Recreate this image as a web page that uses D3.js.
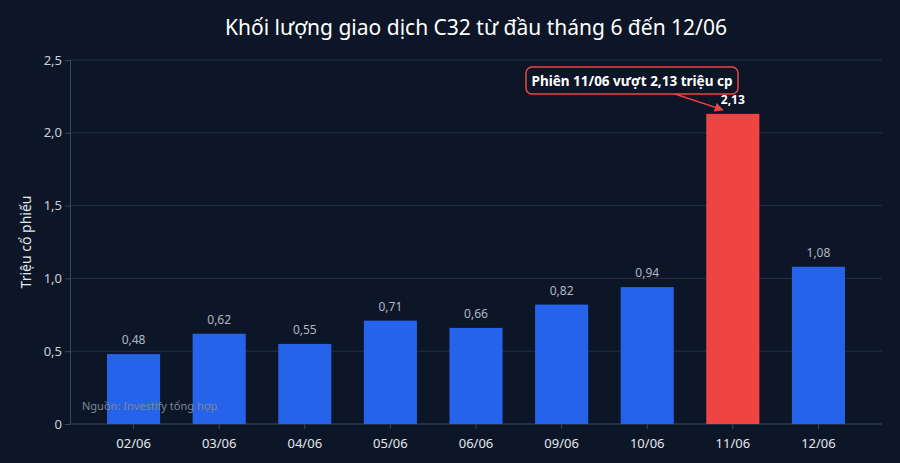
<!DOCTYPE html>
<html><head><meta charset="utf-8">
<script src="https://cdn.jsdelivr.net/npm/d3@7"></script>
<style>
body{margin:0;background:#0d1626;font-family:"Noto Sans",sans-serif;}
</style></head>
<body><svg id="c" width="900" height="463"></svg>
<script>
const days = ["02/06","03/06","04/06","05/06","06/06","09/06","10/06","11/06","12/06"];
const volumes = [0.48,0.62,0.55,0.71,0.66,0.82,0.94,2.13,1.08];
const yTicks = [0,0.5,1,1.5,2,2.5];
const highlightDay = "11/06";

const w = 900, h = 463;
const m = {left:70, right:18, top:60, bottom:39};
const fmt = v => v === 0 ? "0" : d3.format(".1f")(v).replace(".", ",");
const fmt2 = v => d3.format(".2f")(v).replace(".", ",");

const svg = d3.select("#c");
svg.append("rect").attr("width", w).attr("height", h).attr("fill", "#0d1626");

const x = d3.scaleBand().domain(days).range([74.5, 877.5]).padding(0.38);
const y = d3.scaleLinear().domain([0, 2.5]).range([h - m.bottom, m.top]);

// grid
svg.append("g").selectAll("line").data(yTicks.slice(1)).enter().append("line")
  .attr("x1", m.left).attr("x2", w - m.right)
  .attr("y1", d => y(d)).attr("y2", d => y(d))
  .attr("stroke", "#243044").attr("stroke-width", 1);

// axes
const yAxis = svg.append("g").attr("transform", "translate(" + m.left + ",0)")
  .call(d3.axisLeft(y).tickValues(yTicks).tickFormat(fmt).tickSize(5));
const xAxis = svg.append("g").attr("transform", "translate(0," + (h - m.bottom) + ")")
  .call(d3.axisBottom(x).tickSize(5));
xAxis.select(".domain").attr("d", "M" + m.left + ",0H" + (w - m.right));
[yAxis, xAxis].forEach(a => {
  a.selectAll("path,line").attr("stroke", "#3a475b");
  a.selectAll("text").attr("fill", "#c9d1dc").style("font-size", "13px").style("font-family", "Noto Sans");
});
xAxis.selectAll("text").attr("dy", "1.2em").attr("fill", "#e3e8ee");

// bars
svg.append("g").selectAll("rect").data(days).enter().append("rect")
  .attr("x", d => x(d)).attr("width", x.bandwidth())
  .attr("y", (d, i) => y(volumes[i])).attr("height", (d, i) => y(0) - y(volumes[i]))
  .attr("fill", d => d === highlightDay ? "#ef4444" : "#2563eb");

// labels
svg.append("g").selectAll("text").data(days).enter().append("text")
  .attr("x", d => x(d) + x.bandwidth() / 2)
  .attr("y", (d, i) => y(volumes[i]) - 10)
  .attr("text-anchor", "middle")
  .attr("fill", d => d === highlightDay ? "#ffffff" : "#aeb7c4")
  .style("font-size", "12px").style("font-weight", d => d === highlightDay ? "bold" : "normal")
  .text((d, i) => fmt2(volumes[i]));

// title
svg.append("text").attr("x", 476).attr("y", 35).attr("text-anchor", "middle")
  .attr("fill", "#ffffff").style("font-size", "21px")
  .text("Khối lượng giao dịch C32 từ đầu tháng 6 đến 12/06");

// y label
svg.append("text").attr("transform", "translate(31," + (y(1.25)) + ") rotate(-90)")
  .attr("text-anchor", "middle").attr("fill", "#e3e8ee").style("font-size", "14px")
  .text("Triệu cổ phiếu");

// source
svg.append("text").attr("x", 82).attr("y", 410).attr("fill", "#7c8796")
  .style("font-size", "11px").text("Nguồn: Investify tổng hợp");

// annotation
const hi = days.indexOf(highlightDay);
const ax = x(highlightDay) + x.bandwidth() / 2, ay = y(volumes[hi]) - 4;
svg.append("defs").append("marker").attr("id", "arr").attr("viewBox", "0 0 10 10")
  .attr("refX", 9).attr("refY", 5).attr("markerWidth", 6).attr("markerHeight", 6).attr("orient", "auto")
  .append("path").attr("d", "M0,0L10,5L0,10z").attr("fill", "#ef4444");
svg.append("line").attr("x1", 675).attr("y1", 94).attr("x2", ax - 10).attr("y2", ay)
  .attr("stroke", "#ef4444").attr("stroke-width", 1.5).attr("marker-end", "url(#arr)");
svg.append("rect").attr("x", 526).attr("y", 67).attr("width", 212).attr("height", 27).attr("rx", 6)
  .attr("fill", "#0d1626").attr("stroke", "#ef4444").attr("stroke-width", 1.5);
svg.append("text").attr("x", 632).attr("y", 85.5).attr("text-anchor", "middle")
  .attr("fill", "#ffffff").style("font-size", "13.5px").style("font-weight", "bold")
  .text("Phiên 11/06 vượt 2,13 triệu cp");
</script></body></html>
